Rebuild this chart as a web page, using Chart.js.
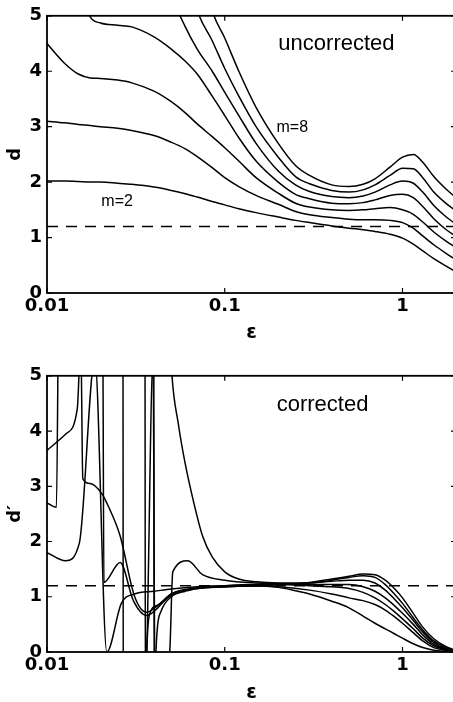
<!DOCTYPE html>
<html>
<head>
<meta charset="utf-8">
<script src="https://cdn.jsdelivr.net/npm/chart.js@4.4.1/dist/chart.umd.min.js"></script>
<style>
  html, body { margin: 0; padding: 0; background: #fff; overflow: hidden; }
  .painel { position: absolute; left: 0; width: 458px; }
  #painelSup { top: 0; height: 350px; }
  #painelInf { top: 360px; height: 352px; }
</style>
</head>
<body>
<div class="painel" id="painelSup"><canvas id="graficoD"></canvas></div>
<div class="painel" id="painelInf"><canvas id="graficoDCorr"></canvas></div>
<script>
// eixo x (epsilon, log) e limiar tracejado
const xTicks = [0.01, 0.1, 1];
const xTickLabels = ["0.01", "0.1", "1"];
const yTicks = [0, 1, 2, 3, 4, 5];
const limiar = 1.2;

// painel superior: d(epsilon) sem correção, m = 2..8
const eps = [0.01, 0.0125, 0.015, 0.0175, 0.02, 0.025, 0.03, 0.04, 0.05, 0.06, 0.07, 0.085, 0.1, 0.12, 0.15, 0.2, 0.25, 0.3, 0.4, 0.5, 0.6, 0.7, 0.85, 1, 1.15, 1.3, 1.5, 1.75, 2];
const dM2 = [2.02, 2.02, 2.01, 2.0, 2.0, 1.98, 1.96, 1.91, 1.85, 1.79, 1.73, 1.65, 1.59, 1.52, 1.45, 1.37, 1.31, 1.27, 1.21, 1.17, 1.14, 1.11, 1.06, 0.99, 0.88, 0.76, 0.62, 0.49, 0.38];
const dM3 = [3.1, 3.07, 3.04, 3.02, 3.0, 2.97, 2.93, 2.84, 2.72, 2.6, 2.46, 2.26, 2.08, 1.92, 1.76, 1.6, 1.47, 1.41, 1.36, 1.33, 1.32, 1.32, 1.31, 1.27, 1.17, 1.03, 0.87, 0.72, 0.6];
const dM4 = [4.5, 4.15, 3.95, 3.88, 3.87, 3.84, 3.79, 3.64, 3.45, 3.25, 3.05, 2.82, 2.62, 2.38, 2.08, 1.8, 1.62, 1.55, 1.5, 1.49, 1.5, 1.52, 1.54, 1.5, 1.42, 1.28, 1.1, 0.94, 0.82];
const dM5 = [9, 7, 5.6, 4.98, 4.87, 4.83, 4.8, 4.62, 4.4, 4.18, 3.95, 3.55, 3.2, 2.8, 2.38, 2.0, 1.78, 1.7, 1.62, 1.61, 1.63, 1.68, 1.76, 1.78, 1.72, 1.56, 1.34, 1.15, 1.02];
const dM6 = [14, 13, 12, 11, 10.2, 9, 8, 6.6, 5.4, 4.8, 4.4, 4.0, 3.62, 3.2, 2.7, 2.2, 1.95, 1.83, 1.74, 1.72, 1.75, 1.82, 1.95, 2.02, 1.98, 1.82, 1.58, 1.38, 1.24];
const dM7 = [16, 15, 14, 13, 12, 11, 10, 8.5, 7.2, 6.0, 5.1, 4.55, 4.05, 3.55, 3.0, 2.45, 2.1, 1.97, 1.85, 1.82, 1.86, 1.95, 2.12, 2.25, 2.24, 2.08, 1.82, 1.62, 1.48];
const dM8 = [18, 17, 16, 15, 14, 13, 12, 10.5, 9, 7.5, 6.4, 5.1, 4.6, 4.0, 3.35, 2.7, 2.3, 2.12, 1.95, 1.92, 1.96, 2.06, 2.27, 2.45, 2.5, 2.36, 2.1, 1.88, 1.72];

// painel inferior: d' corrigido, pares [epsilon, d']
const corrM2 = [[0.01, 1.8], [0.0127, 1.65], [0.0152, 1.97], [0.0186, 5.3], [0.0217, 0], [0.0262, 0.88], [0.031, 1.05], [0.04, 1.1], [0.05, 1.14], [0.07, 1.18], [0.1, 1.2], [0.15, 1.2], [0.2, 1.17], [0.25, 1.11], [0.3, 1.05], [0.4, 0.92], [0.5, 0.8], [0.6, 0.65], [0.7, 0.52], [0.8, 0.42], [0.9, 0.33], [1, 0.25], [1.15, 0.15], [1.3, 0.08], [1.5, 0.03], [1.75, 0.01], [2, 0]];
const corrM3 = [[0.01, 3.65], [0.0128, 3.95], [0.0148, 4.4], [0.0155, 5.6], [0.0159, 3.14], [0.0175, 3.05], [0.0203, 2.87], [0.0222, 2.63], [0.0258, 2.1], [0.031, 1.02], [0.0364, 0.72], [0.042, 0.84], [0.05, 1.02], [0.06, 1.1], [0.07, 1.15], [0.1, 1.18], [0.15, 1.2], [0.2, 1.18], [0.3, 1.12], [0.4, 1.05], [0.5, 0.98], [0.6, 0.93], [0.7, 0.86], [0.8, 0.76], [0.9, 0.64], [1, 0.52], [1.15, 0.35], [1.3, 0.2], [1.5, 0.08], [1.75, 0.03], [2, 0.01]];
const corrM4 = [[0.01, 2.7], [0.0113, 2.62], [0.0117, 7], [0.0206, 5.5], [0.0209, 1.26], [0.0258, 1.62], [0.0306, 0.93], [0.0364, 0.66], [0.042, 0.8], [0.05, 1.05], [0.07, 1.16], [0.1, 1.2], [0.15, 1.22], [0.2, 1.22], [0.3, 1.2], [0.4, 1.18], [0.5, 1.15], [0.6, 1.08], [0.7, 0.98], [0.8, 0.86], [0.9, 0.73], [1, 0.6], [1.15, 0.42], [1.3, 0.25], [1.5, 0.11], [1.75, 0.04], [2, 0.01]];
const corrM5 = [[0.01, 9], [0.0267, 9], [0.0269, -3], [0.035, -1], [0.0364, 0], [0.0395, 5.3], [0.0405, -0.5], [0.046, -0.3], [0.049, 0], [0.051, 1.45], [0.062, 1.65], [0.075, 1.4], [0.1, 1.3], [0.15, 1.25], [0.2, 1.24], [0.3, 1.22], [0.4, 1.22], [0.5, 1.22], [0.6, 1.18], [0.7, 1.1], [0.8, 0.98], [0.9, 0.84], [1, 0.7], [1.15, 0.5], [1.3, 0.31], [1.5, 0.14], [1.75, 0.05], [2, 0.01]];
const corrM6 = [[0.01, 9], [0.0398, 9], [0.0401, -2], [0.041, 0], [0.044, 0.75], [0.05, 1.0], [0.06, 1.12], [0.07, 1.16], [0.1, 1.18], [0.15, 1.2], [0.2, 1.22], [0.3, 1.25], [0.4, 1.28], [0.5, 1.3], [0.6, 1.3], [0.7, 1.25], [0.8, 1.12], [0.9, 0.96], [1, 0.8], [1.15, 0.57], [1.3, 0.36], [1.5, 0.17], [1.75, 0.06], [2, 0.02]];
const corrM7 = [[0.01, 9], [0.045, 9], [0.05, 5.2], [0.055, 4.1], [0.06, 3.4], [0.067, 2.7], [0.075, 2.1], [0.085, 1.72], [0.1, 1.45], [0.12, 1.32], [0.15, 1.27], [0.2, 1.25], [0.3, 1.25], [0.4, 1.3], [0.5, 1.35], [0.6, 1.38], [0.7, 1.35], [0.8, 1.22], [0.9, 1.05], [1, 0.88], [1.15, 0.62], [1.3, 0.4], [1.5, 0.2], [1.75, 0.08], [2, 0.02]];
const corrM8 = [[0.01, 9], [0.0355, 9], [0.0358, -2], [0.0364, 0], [0.0385, 0.75], [0.042, 0.85], [0.05, 1.05], [0.06, 1.12], [0.1, 1.18], [0.15, 1.2], [0.2, 1.22], [0.3, 1.26], [0.4, 1.32], [0.5, 1.37], [0.6, 1.41], [0.7, 1.4], [0.8, 1.3], [0.9, 1.15], [1, 0.98], [1.15, 0.7], [1.3, 0.45], [1.5, 0.24], [1.75, 0.1], [2, 0.03]];

const fonteTick = { family: "'DejaVu Sans'", size: 18, weight: "bold" };

// moldura com marcas de escala para dentro, nos quatro lados
const moldura = {
  id: "moldura",
  afterDatasetsDraw(chart) {
    const { ctx, chartArea: a, scales: { x, y } } = chart;
    ctx.save();
    ctx.strokeStyle = "#000";
    ctx.lineWidth = 1.8;
    ctx.strokeRect(a.left, a.top, a.right - a.left, a.bottom - a.top);
    ctx.lineWidth = 1.2;
    ctx.beginPath();
    x.ticks.forEach(t => {
      const px = x.getPixelForValue(t.value);
      ctx.moveTo(px, a.bottom); ctx.lineTo(px, a.bottom - 5);
      ctx.moveTo(px, a.top); ctx.lineTo(px, a.top + 5);
    });
    y.ticks.forEach(t => {
      const py = y.getPixelForValue(t.value);
      ctx.moveTo(a.left, py); ctx.lineTo(a.left + 5, py);
      ctx.moveTo(a.right, py); ctx.lineTo(a.right - 5, py);
    });
    ctx.stroke();
    ctx.restore();
  }
};

function notas(itens) {
  return {
    id: "notas",
    afterDraw(chart) {
      const { ctx, scales: { x, y } } = chart;
      ctx.save();
      ctx.fillStyle = "#000";
      ctx.textAlign = "center";
      ctx.textBaseline = "middle";
      itens.forEach(n => {
        ctx.font = n.font;
        ctx.fillText(n.text, x.getPixelForValue(n.eps), y.getPixelForValue(n.d));
      });
      ctx.restore();
    }
  };
}

function serie(pontos, extra) {
  return Object.assign({
    data: pontos,
    borderColor: "#000",
    borderWidth: 1.5,
    pointRadius: 0,
    fill: false,
    cubicInterpolationMode: "monotone"
  }, extra || {});
}

function linhaLimiar() {
  return serie([{ x: eps[0], y: limiar }, { x: eps[eps.length - 1], y: limiar }], {
    borderDash: [11, 8],
    cubicInterpolationMode: "default"
  });
}

function gerarPainel(canvasId, datasets, cfg) {
  const ctx = document.getElementById(canvasId)?.getContext("2d");
  if (!ctx) return;

  new Chart(ctx, {
    type: "line",
    data: { datasets },
    options: {
      responsive: true,
      maintainAspectRatio: false,
      animation: false,
      devicePixelRatio: 1,
      layout: { padding: { top: cfg.padTop, right: 2, left: 0, bottom: 0 } },
      plugins: { legend: { display: false }, tooltip: { enabled: false } },
      scales: {
        x: {
          type: "logarithmic",
          min: 0.01,
          max: 2,
          afterBuildTicks: s => { s.ticks = xTicks.map(v => ({ value: v })); },
          afterFit: s => { s.height = cfg.xHeight; },
          grid: { display: false, drawTicks: false },
          border: { display: false },
          ticks: {
            autoSkip: false,
            maxRotation: 0,
            padding: 3,
            color: "#000",
            font: fonteTick,
            callback: (v, i) => xTickLabels[i]
          },
          title: {
            display: true,
            text: "ε",
            color: "#000",
            font: { family: "'DejaVu Sans'", size: 19, weight: "bold" },
            padding: { top: 0, bottom: cfg.xTitlePad }
          }
        },
        y: {
          min: 0,
          max: 5,
          afterBuildTicks: s => { s.ticks = yTicks.map(v => ({ value: v })); },
          afterFit: s => { s.width = 47; },
          grid: { display: false, drawTicks: false },
          border: { display: false },
          ticks: { padding: 5, color: "#000", font: fonteTick, callback: v => String(v) },
          title: {
            display: true,
            text: cfg.yTitle,
            color: "#000",
            font: { family: "'DejaVu Sans'", size: 18, weight: "bold" },
            padding: { top: 5, bottom: 0 }
          }
        }
      }
    },
    plugins: [moldura, notas(cfg.notas)]
  });
}

const paraPontos = valores => eps.map((e, i) => ({ x: e, y: valores[i] }));
const paresParaPontos = pares => pares.map(([e, d]) => ({ x: e, y: d }));

gerarPainel("graficoD",
  [dM2, dM3, dM4, dM5, dM6, dM7, dM8].map(v => serie(paraPontos(v))).concat([linhaLimiar()]),
  {
    padTop: 14, xHeight: 57, xTitlePad: 6, yTitle: "d",
    notas: [
      { text: "uncorrected", eps: 0.425, d: 4.49, font: "22px 'Liberation Sans'" },
      { text: "m=8", eps: 0.24, d: 2.98, font: "16px 'Liberation Sans'" },
      { text: "m=2", eps: 0.0248, d: 1.64, font: "16px 'Liberation Sans'" }
    ]
  });

gerarPainel("graficoDCorr",
  [corrM2, corrM3, corrM4, corrM5, corrM6, corrM7, corrM8].map(p => serie(paresParaPontos(p))).concat([linhaLimiar()]),
  {
    padTop: 13, xHeight: 60, xTitlePad: 8, yTitle: "d′",
    notas: [
      { text: "corrected", eps: 0.355, d: 4.48, font: "22px 'Liberation Sans'" }
    ]
  });
</script>
</body>
</html>
